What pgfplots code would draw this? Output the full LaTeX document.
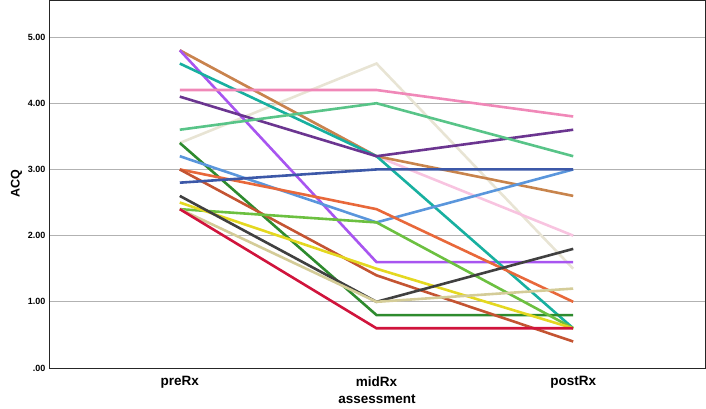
\documentclass[border=0pt]{standalone}
\usepackage{pgfplots}
\pgfplotsset{compat=1.18}
\usepackage{fontspec}
\setmainfont{Liberation Sans}
\setsansfont{Liberation Sans}
\definecolor{cbrown}{HTML}{C8844C}
\definecolor{cviolet}{HTML}{A855F0}
\definecolor{cteal}{HTML}{18B0A0}
\definecolor{cpink}{HTML}{F088B8}
\definecolor{cdpurple}{HTML}{6B3590}
\definecolor{clgreen}{HTML}{58C488}
\definecolor{ccream}{HTML}{E8E4D4}
\definecolor{cdgreen}{HTML}{2E8B2E}
\definecolor{clblue}{HTML}{5A96DC}
\definecolor{corange}{HTML}{E8683A}
\definecolor{crust}{HTML}{C45432}
\definecolor{cdblue}{HTML}{3C58A8}
\definecolor{cdgray}{HTML}{404040}
\definecolor{cyellow}{HTML}{E4D820}
\definecolor{clime}{HTML}{6CC040}
\definecolor{ckhaki}{HTML}{D4CC98}
\definecolor{ccrimson}{HTML}{D0143C}
\definecolor{clpink}{HTML}{F8C4E0}
\begin{document}
\begin{tikzpicture}
\begin{axis}[
  scale only axis, width=656pt, height=368pt,
  at={(0,0)}, anchor=south west,
  xmin=0.335, xmax=3.67, ymin=0, ymax=5.56,
  xtick={1,2,3}, xticklabels={preRx,midRx,postRx},
  ytick={0,1,2,3,4,5}, yticklabels={.00,1.00,2.00,3.00,4.00,5.00},
  major tick length=0pt,
  ymajorgrids, grid style={color=black!30, line width=0.8pt},
  axis line style={line width=0.9pt, color=black!85},
  xticklabel style={font=\fontsize{13.5}{15}\selectfont\bfseries, yshift=-5pt},
  yticklabel style={font=\fontsize{9}{10}\selectfont\bfseries},
  xlabel={assessment}, ylabel={ACQ},
  xlabel style={font=\fontsize{13.5}{15}\selectfont\bfseries, yshift=0.5pt},
  ylabel style={font=\fontsize{12.5}{14}\selectfont\bfseries, yshift=-1pt},
  every axis plot/.append style={line width=2.6pt, mark=none},
  clip=true,
]
\addplot[ccream] coordinates {(1,3.4) (2,4.6) (3,1.5)};
\addplot[clpink] coordinates {(1,4.8) (2,3.2) (3,2.0)};
\addplot[cbrown] coordinates {(1,4.8) (2,3.2) (3,2.6)};
\addplot[cviolet] coordinates {(1,4.8) (2,1.6) (3,1.6)};
\addplot[cteal] coordinates {(1,4.6) (2,3.2) (3,0.6)};
\addplot[cpink] coordinates {(1,4.2) (2,4.2) (3,3.8)};
\addplot[cdpurple] coordinates {(1,4.1) (2,3.2) (3,3.6)};
\addplot[clgreen] coordinates {(1,3.6) (2,4.0) (3,3.2)};
\addplot[cdgreen] coordinates {(1,3.4) (2,0.8) (3,0.8)};
\addplot[clblue] coordinates {(1,3.2) (2,2.2) (3,3.0)};
\addplot[corange] coordinates {(1,3.0) (2,2.4) (3,1.0)};
\addplot[crust] coordinates {(1,3.0) (2,1.4) (3,0.4)};
\addplot[cdblue] coordinates {(1,2.8) (2,3.0) (3,3.0)};
\addplot[clime] coordinates {(1,2.4) (2,2.2) (3,0.6)};
\addplot[cyellow] coordinates {(1,2.5) (2,1.5) (3,0.6)};
\addplot[cdgray] coordinates {(1,2.6) (2,1.0) (3,1.8)};
\addplot[ckhaki] coordinates {(1,2.4) (2,1.0) (3,1.2)};
\addplot[ccrimson] coordinates {(1,2.4) (2,0.6) (3,0.6)};
\end{axis}
\pgfresetboundingbox
\path (-49pt,-40pt) rectangle (657pt,368pt);
\end{tikzpicture}
\end{document}
